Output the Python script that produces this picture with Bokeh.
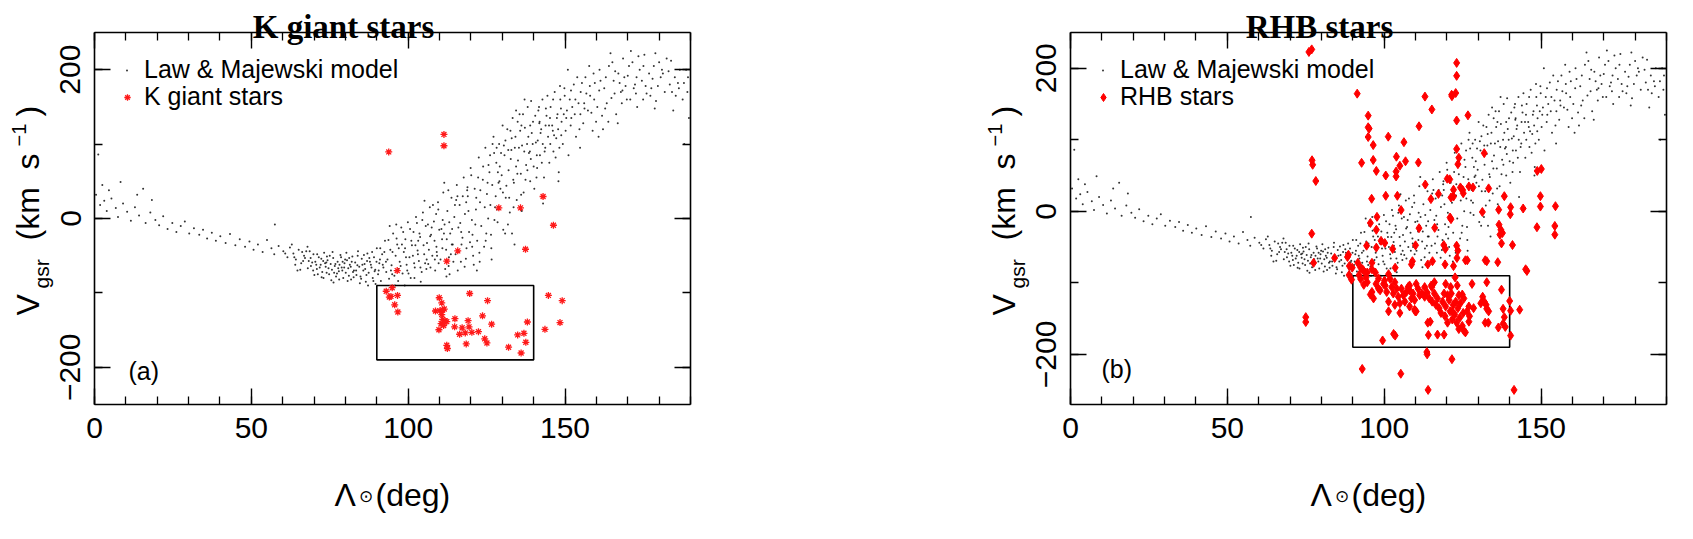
import math
from bokeh.plotting import figure
from bokeh.models import (Range1d, FixedTicker, LinearAxis, Label, Legend,
                          LegendItem, CustomJSTickFormatter)
from bokeh.layouts import row
from bokeh.embed import file_html
from bokeh.resources import INLINE

# ---------------- data ----------------
lam_range = [0, 190]
vgsr_range_a = [-250, 250]
vgsr_range_b = [-270, 250]
box_lam = [90, 140]
box_vgsr = [-190, -90]
x_major_ticks = [0, 50, 100, 150]
x_minor_ticks = [0, 10, 20, 30, 40, 50, 60, 70, 80, 90, 100, 110, 120, 130, 140, 150, 160, 170, 180, 190]
y_major_ticks = [-200, 0, 200]
y_minor_ticks = [-200, -100, 0, 100, 200]

model_lam = [
    0.5, 1.2, 1.8, 2.5, 3.1, 3.9, 4.6, 5.4, 6.8, 8.3,
    7.5, 9.1, 10.4, 11.6, 12.9, 14.2, 15.5, 16.3, 17.8, 19.4,
    20.6, 21.9, 23.3, 24.8, 26.1, 27.5, 28.8, 30.2, 31.7, 33.4,
    34.6, 35.9, 37.4, 38.7, 40.1, 41.8, 43.2, 44.9, 46.3, 48.0,
    49.4, 50.7, 52.1, 53.6, 55.0, 56.4, 57.3, 58.7, 60.2, 61.5,
    62.3, 63.4, 64.2, 65.1, 65.9, 66.8, 67.5, 68.3, 69.0, 69.8,
    70.4, 70.9, 71.5, 72.1, 72.6, 73.2, 73.7, 74.3, 74.8, 75.3,
    75.7, 76.1, 76.6, 77.0, 77.5, 77.9, 78.4, 78.8, 79.3, 79.7,
    80.1, 80.5, 80.9, 81.4, 81.8, 82.2, 82.7, 83.1, 83.5, 84.0,
    84.4, 84.8, 85.2, 85.7, 86.1, 86.5, 87.0, 87.4, 87.8, 88.3,
    88.7, 89.1, 89.5, 90.0, 90.4, 90.8, 91.3, 91.7, 92.1, 92.6,
    93.0, 93.4, 93.9, 94.3, 94.7, 95.2, 95.6, 96.0, 96.5, 96.9,
    97.3, 97.8, 98.2, 98.6, 99.1, 99.5, 99.9, 100.4, 100.8, 101.2,
    101.7, 102.1, 102.5, 103.0, 103.4, 103.8, 104.3, 104.7, 105.1, 105.6,
    106.0, 106.4, 106.9, 107.3, 107.7, 108.2, 108.6, 109.0, 109.5, 109.9,
    110.3, 110.8, 111.2, 111.6, 112.1, 112.5, 112.9, 113.4, 113.8, 114.2,
    114.7, 115.1, 115.5, 116.0, 116.4, 116.8, 117.3, 117.7, 118.1, 118.6,
    119.0, 119.4, 119.9, 120.3, 120.7, 121.2, 121.6, 122.0, 122.5, 122.9,
    123.3, 123.8, 124.2, 124.6, 125.1, 125.5, 125.9, 126.4, 126.8, 127.2,
    127.7, 128.1, 128.5, 129.0, 129.4, 129.8, 130.3, 130.7, 131.1, 131.6,
    132.0, 132.4, 132.9, 133.3, 133.7, 134.2, 134.6, 135.0, 135.5, 135.9,
    136.3, 136.8, 137.2, 137.6, 138.1, 138.5, 138.9, 139.4, 139.8, 140.2,
    140.7, 141.1, 141.5, 142.0, 142.4, 142.8, 143.3, 143.7, 144.1, 144.6,
    145.0, 145.4, 145.9, 146.3, 146.7, 147.2, 147.6, 148.0, 148.5, 148.9,
    149.3, 149.8, 150.2, 150.6, 151.1, 151.5, 152.0, 152.8, 153.5, 154.3,
    155.0, 155.8, 156.5, 157.3, 158.0, 158.8, 159.5, 160.3, 161.0, 161.8,
    162.5, 163.3, 164.0, 164.8, 165.5, 166.3, 167.0, 167.8, 168.5, 169.3,
    170.0, 170.8, 171.5, 172.3, 173.0, 173.8, 174.5, 175.3, 176.0, 176.8,
    177.5, 178.3, 179.0, 180.5, 181.8, 183.0, 184.5, 186.0, 187.5, 189.2,
    68.9, 71.2, 73.9, 76.4, 78.1, 81.1, 83.8, 86.9, 89.3, 91.0,
    92.4, 94.5, 96.2, 98.0, 99.7, 101.5, 103.2, 105.4, 107.5, 109.2,
    111.0, 113.0, 115.3, 117.0, 118.8, 120.5, 122.3, 124.4, 126.1, 128.8,
    130.5, 132.6, 134.4, 136.1, 137.9, 139.1, 141.8, 143.9, 146.1, 148.2,
    150.9, 153.1, 156.1, 159.1, 162.1, 165.1, 168.1, 172.6, 180.0, 185.3,
    57.5, 64.7, 95.8, 104.0, 113.2, 121.9, 126.6, 133.9, 18.3, 13.6,
    188.0, 189.5, 183.8, 178.8, 171.0, 166.8, 160.7, 154.8, 147.9, 143.0,
    66.2, 71.8, 74.1, 77.3, 79.9, 82.6, 85.9, 88.1, 69.4, 73.0,
    76.8, 80.3, 83.4, 86.7, 89.9, 68.0, 72.9, 75.5, 78.6, 81.7,
    84.6, 87.6, 90.6, 67.1, 70.1, 74.6, 79.0, 82.0, 85.4, 88.9,
    91.9, 95.0, 98.4, 101.9, 104.9, 107.1, 110.6, 113.6, 116.6, 119.7,
    93.7, 96.8, 99.3, 102.8, 105.9, 108.9, 111.8, 114.9, 118.4, 121.4,
    94.1, 97.0, 100.1, 103.6, 106.6, 109.7, 112.3, 115.8, 118.9, 122.7,
    124.9, 126.2, 123.0, 120.1, 117.4, 114.0, 111.5, 108.4, 105.2, 102.3,
    125.6, 127.9, 129.6, 131.3, 133.0, 134.8, 136.6, 138.3, 140.0, 141.9,
    143.5, 145.2, 147.0, 148.7, 126.9, 128.6, 130.1, 132.2, 134.0, 135.7,
    137.4, 139.2, 141.3, 142.6, 144.4, 146.5, 148.4, 127.5, 130.9, 133.6,
    136.0, 138.8, 140.5, 142.2, 144.9, 147.8, 149.6, 129.1, 131.9, 134.9,
    151.8, 153.9, 156.8, 158.4, 160.9, 163.0, 165.8, 168.9, 171.9, 174.9,
    177.9, 180.9, 183.4, 186.6, 189.0, 152.3, 154.6, 157.7, 159.9, 162.8,
    164.5, 167.4, 169.7, 173.4, 175.7, 178.6, 182.4, 185.0, 187.9, 155.4,
    60.8, 62.9, 64.0, 66.5, 67.9, 69.7, 71.0, 72.4, 73.5, 75.0,
    76.2, 77.7, 79.1, 80.7, 82.4, 83.9, 85.0, 86.3, 87.2, 88.5,
    63.7, 65.6, 68.6, 70.7, 72.3, 74.0, 75.9, 78.0, 79.6, 81.2,
    89.6, 91.1, 92.9, 94.9, 96.3, 97.6, 99.0, 100.6, 102.0, 103.1,
    104.5, 105.8, 107.0, 108.5, 109.6, 110.9, 112.2, 113.1, 114.4, 115.7,
    116.9, 118.0, 119.2, 120.4, 121.7, 122.8, 123.9, 124.7, 112.8, 107.9,
    98.9, 101.0, 103.9, 106.3, 109.1, 111.4, 113.9, 116.2, 118.5, 120.9,
    125.3, 126.5, 127.4, 128.3, 129.2, 130.2, 131.0, 131.8, 132.7, 133.5,
    134.4, 135.3, 136.2, 137.1, 138.0, 138.9, 139.7, 140.9, 141.7, 142.9,
    143.8, 145.3, 146.2, 147.4, 148.8, 149.9, 128.2, 133.1, 137.0, 141.0,
    150.4, 151.9, 153.3, 154.9, 156.2, 157.9, 159.3, 161.3, 163.8, 166.0,
    168.3, 170.4, 172.8, 175.0, 177.2, 179.6, 181.2, 184.1, 186.3, 188.6,
]
model_vgsr = [
    32, 86, 18, 45, 24, 10, 38, 27, 14, 49,
    2, 20, 9, -3, 15, 4, 40, -6, 8, -2,
    -9, 3, -14, -6, -18, -10, -4, -20, -13, -22,
    -15, -27, -19, -30, -24, -33, -21, -36, -28, -38,
    -31, -42, -35, -45, -29, -40, -48, -37, -44, -52,
    -39, -47, -55, -42, -60, -50, -44, -57, -64, -48,
    -58, -68, -52, -62, -72, -46, -65, -56, -75, -61,
    -69, -53, -64, -78, -58, -71, -49, -66, -80, -60,
    -73, -56, -67, -62, -82, -51, -70, -59, -76, -44,
    -65, -78, -54, -70, -61, -85, -47, -73, -58, -66,
    -80, -52, -69, -40, -75, -60, -84, -48, -66, -30,
    -72, -55, -81, -42, -63, -20, -77, -50, -35, -68,
    -58, -12, -74, -45, -28, -62, -5, -52, -80, -36,
    -18, -66, 2, -43, -57, -25, -72, 8, -48, -10,
    -33, -61, 15, -22, -50, -4, -70, -38, 22, -15,
    -55, -28, 35, -8, -42, 10, -64, -20, 28, -35,
    2, -48, 45, -12, 18, -58, -26, 55, 6, -40,
    30, -18, 68, -2, -50, 40, 12, -30, 82, 22,
    -10, 52, -38, 95, 33, 0, 62, -22, 45, 110,
    15, 75, -5, 100, 40, 58, -15, 85, 28, 120,
    65, 8, 92, 135, 48, 110, 25, 78, 140, 60,
    98, 35, 122, 72, 150, 88, 50, 115, 130, 40,
    102, 68, 145, 85, 120, 160, 55, 95, 138, 110,
    75, 150, 125, 90, 170, 108, 140, 62, 160, 130,
    100, 175, 118, 145, 85, 160, 135, 180, 110, 155,
    170, 128, 190, 145, 165, 118, 182, 150, 200, 138,
    175, 155, 205, 162, 185, 140, 195, 170, 215, 178,
    192, 160, 210, 180, 150, 200, 185, 220, 168, 195,
    175, 205, 158, 190, 170, 198, 145, 182, 160, 190,
    -53, -75, -59, -73, -62, -77, -63, -57, -71, -55,
    -45, -70, -8, -35, -70, -50, -30, -60, -12, -50,
    -2, -52, 25, -35, 38, -22, 55, 15, 85, 48,
    98, 118, 70, 125, 100, 80, 128, 148, 118, 95,
    200, 140, 155, 195, 120, 210, 155, 168, 210, 165,
    -8, -70, -90, -85, -75, -70, -55, -35, 25, 32,
    100, 135, 212, 222, 225, 128, 110, 95, 50, 20,
    -45, -66, -51, -74, -55, -79, -49, -62, -59, -80,
    -61, -46, -70, -76, -58, -67, -57, -83, -52, -65,
    -87, -53, -70, -53, -76, -67, -70, -58, -62, -84,
    -62, -45, -18, -60, -36, -66, -14, -48, -6, -32,
    -29, -84, -52, -6, -55, 6, -68, 18, -54, -8,
    -10, -40, -74, -20, -42, -60, -28, -70, 42, -46,
    -20, 18, 38, 58, 30, -14, 48, -30, 24, -36,
    72, 30, 88, 44, 108, 60, 140, 110, 70, 130,
    90, 135, 82, 148, 100, 62, 125, 28, 95, 118,
    52, 158, 105, 75, 165, 112, 178, -2, -20, 15,
    32, 90, 138, 115, 125, 120, 140, 50, 92, 130,
    125, 190, 168, 142, 172, 190, 168, 190, 175, 160,
    188, 200, 180, 200, 170, 150, 120, 205, 130, 148,
    222, 182, 160, 218, 178, 148, 215, 190, 182, 182,
    -47, -35, -62, -57, -38, -70, -48, -79, -60, -50,
    -86, -67, -58, -84, -72, -50, -81, -68, -90, -45,
    -52, -69, -44, -62, -54, -73, -45, -82, -66, -53,
    -88, -40, -58, -75, -27, -64, -40, -14, -80, -48,
    -2, -68, -24, -55, 12, -40, -78, -5, -58, 30,
    -18, -65, 10, -38, 28, -58, 70, -30, 38, 18,
    -90, -30, -66, -8, -45, -20, -35, -45, 22, -62,
    48, -40, 88, 12, 70, 35, 105, -8, 80, 52,
    145, 95, 10, 160, 65, 125, 100, 55, 150, 100,
    125, 100, 160, 135, 112, 165, 95, -20, 90, 85,
    135, 172, 160, 140, 148, 178, 160, 185, 130, 198,
    172, 205, 190, 205, 165, 178, 195, 170, 175, 200,
]

kgiant_lam = [
    93.0, 94.9, 94.0, 94.5, 96.6, 95.7, 96.7, 109.9, 110.7, 108.7,
    110.1, 111.0, 111.5, 110.7, 111.0, 111.8, 112.3, 110.5, 111.3, 109.8,
    114.9, 114.8, 117.2, 119.1, 119.4, 116.4, 118.2, 120.3, 122.4, 119.6,
    125.3, 123.7, 126.6, 124.4, 125.1, 112.3, 112.5, 118.5, 132.0, 136.0,
    134.9, 136.9, 137.5, 138.0, 144.7, 149.1, 148.4, 143.6, 115.8, 112.3,
    96.5, 137.4, 93.8, 111.4, 111.4, 128.9, 135.8, 143.0, 146.3,
]
kgiant_vgsr = [
    -97.8, -93.0, -105.6, -104.7, -103.4, -116.0, -125.6, -106.5, -113.4, -124.3,
    -123.9, -123.0, -121.7, -129.1, -135.6, -137.8, -138.6, -141.2, -143.8, -149.5,
    -134.7, -145.6, -146.9, -137.3, -145.6, -155.6, -153.8, -153.0, -152.1, -100.8,
    -110.4, -130.8, -142.1, -161.7, -167.3, -170.4, -174.7, -168.6, -173.0, -180.8,
    -156.5, -154.3, -166.4, -139.1, -103.4, -110.4, -139.9, -149.0, -43.5, -57.4,
    -70.0, -41.3, 89.5, 113.0, 97.8, 14.3, 14.3, 29.6, -9.1,
]

rhb_lam = [
    76.0, 76.9, 123.1, 123.1, 121.5, 122.8, 121.6, 91.4, 113.0, 115.2,
    123.1, 126.7, 94.9, 94.9, 95.2, 94.9, 96.5, 101.3, 106.3, 111.1,
    123.1, 131.9, 77.0, 77.2, 78.2, 92.8, 96.5, 97.5, 100.5, 103.9,
    105.0, 103.8, 103.8, 106.8, 110.9, 123.8, 123.5, 113.1, 120.1, 120.9,
    122.1, 124.3, 125.0, 125.2, 127.0, 128.3, 133.3, 121.3, 122.1, 117.3,
    114.9, 100.5, 104.2, 96.0, 138.3, 148.8, 150.1, 149.8, 149.8, 154.6,
    144.3, 140.3, 140.2, 136.5, 131.3, 105.4, 97.7, 95.6, 97.5, 111.1,
    116.1, 121.0, 121.3, 136.6, 137.2, 136.9, 137.7, 137.4, 140.9, 148.7,
    154.4, 154.4, 76.9, 94.4, 97.5, 99.0, 100.2, 102.7, 110.0, 119.0,
    119.5, 123.1, 123.5, 88.6, 77.5, 84.2, 88.9, 89.8, 91.6, 93.1,
    96.1, 94.6, 103.5, 108.7, 109.0, 115.4, 119.4, 122.1, 123.2, 126.5,
    132.2, 136.2, 145.5, 145.1, 75.0, 75.0, 99.5, 103.0, 103.5, 113.6,
    113.7, 121.6, 93.0, 105.3, 114.0, 141.4, 140.3, 143.2, 88.3, 92.5,
    93.5, 96.1, 97.2, 113.9, 125.9, 132.7, 88.8, 89.6, 92.0, 94.2,
    98.2, 101.4, 99.8, 122.6, 92.5, 93.5, 94.6, 96.1, 96.6, 95.6,
    97.4, 98.7, 100.1, 100.3, 100.8, 101.4, 102.4, 102.9, 103.4, 104.0,
    104.5, 105.0, 105.5, 106.1, 106.6, 107.1, 107.6, 108.1, 108.7, 109.2,
    109.7, 110.2, 110.8, 111.3, 112.0, 112.9, 113.7, 114.4, 115.0, 115.3,
    116.0, 116.5, 117.0, 117.5, 118.1, 118.6, 119.1, 119.4, 119.6, 120.2,
    120.7, 121.0, 121.4, 121.7, 122.0, 122.5, 122.8, 123.1, 123.5, 123.8,
    124.1, 124.3, 124.9, 125.2, 125.4, 125.9, 124.9, 127.0, 127.2, 123.3,
    128.0, 132.7, 137.4, 131.4, 131.9, 132.5, 132.7, 133.3, 130.8, 132.2,
    133.2, 136.4, 137.9, 138.3, 137.9, 140.0, 140.3, 138.6, 113.9, 114.7,
    114.1, 117.0, 119.1, 115.2, 108.1, 121.2, 103.4, 101.4, 105.0, 108.1,
    109.7, 109.9, 98.2, 101.9, 110.2, 112.9, 116.0, 119.6, 125.4, 126.4,
    128.5, 127.0, 123.8, 121.7, 120.2,
]
rhb_vgsr = [
    222.8, 226.4, 207.5, 189.4, 163.0, 165.4, 160.9, 164.5, 160.4, 142.4,
    127.0, 134.2, 133.8, 117.5, 115.7, 103.9, 92.6, 104.4, 96.7, 118.9,
    87.2, 81.3, 71.4, 65.1, 42.4, 67.8, 71.8, 56.5, 50.1, 76.4,
    63.7, 55.6, 48.8, 70.0, 68.2, 75.0, 65.9, 37.5, 45.6, 44.7,
    30.2, 33.4, 29.8, 25.3, 34.8, 33.4, 32.1, 19.4, 20.7, 24.4,
    17.1, 21.7, 21.7, 17.6, 21.2, 56.5, 59.2, 21.2, 6.7, 7.2,
    4.0, 5.8, -4.1, 2.2, -0.9, 1.8, -7.7, -16.3, -25.8, -23.5,
    -23.1, -8.6, -10.9, -18.6, -25.8, -32.6, -30.3, -44.8, -47.1, -22.2,
    -20.4, -32.6, -31.2, -48.0, -50.7, -41.2, -44.3, -52.5, -47.5, -47.1,
    -52.5, -48.0, -54.8, -60.6, -72.0, -65.2, -76.5, -78.8, -72.0, -81.0,
    -81.0, -85.5, -78.8, -74.2, -69.7, -69.7, -74.2, -76.5, -65.2, -68.4,
    -68.4, -71.1, -83.3, -81.0, -147.9, -154.7, -180.5, -171.4, -173.7, -196.7,
    -199.9, -206.7, -220.3, -227.0, -249.6, -249.6, -173.7, -137.5, -63.8, -78.7,
    -83.3, -72.0, -85.5, -74.2, -68.4, -69.7, -89.1, -95.5, -89.1, -92.3,
    -93.7, -87.8, -101.4, -92.3, -94.6, -102.7, -99.1, -112.7, -121.7, -116.3,
    -101.4, -110.4, -96.8, -103.6, -112.7, -126.2, -105.9, -114.9, -99.1, -108.1,
    -119.4, -128.5, -108.1, -117.2, -126.2, -112.7, -105.9, -110.4, -121.7, -114.9,
    -124.0, -139.8, -108.1, -117.2, -114.9, -119.4, -113.6, -121.7, -103.6, -126.2,
    -114.9, -130.7, -121.7, -135.3, -142.0, -126.2, -114.9, -146.6, -133.0, -155.6,
    -124.0, -139.8, -114.9, -151.1, -130.7, -144.3, -126.2, -155.6, -135.3, -117.2,
    -148.8, -128.5, -160.1, -142.0, -166.9, -169.2, -116.3, -133.0, -146.6, -103.6,
    -101.4, -99.1, -109.5, -119.4, -126.2, -130.7, -136.2, -139.8, -128.5, -155.6,
    -155.6, -162.4, -157.0, -147.9, -136.2, -125.3, -138.9, -161.5, -155.6, -154.2,
    -172.8, -172.3, -172.3, -105.9, -103.6, -105.9, -130.7, -139.8, -142.0, -133.0,
    -137.5, -139.8, -108.1, -94.6, -101.4, -105.9, -99.1, -101.4, -121.7, -139.8,
    -135.3, -154.2, -164.6, -139.8, -117.2,
]

# ---------------- styling / layout (pixels) ----------------
SANS = "Liberation Sans"
SERIF = "Liberation Serif"
PAGE_TOP = 8          # body margin
CANVAS_H = 515
BOX_TOP_PAGE = 40     # page y of the top edge of the plot box
BOX_W, BOX_H = 596, 372


def style_axis(ax, ticks, minor, labels=True, vertical=False, standoff=14):
    ax.ticker = FixedTicker(ticks=ticks, minor_ticks=minor)
    ax.major_tick_in = 16
    ax.major_tick_out = 0
    ax.minor_tick_in = 8
    ax.minor_tick_out = 0
    ax.axis_line_color = "black"
    ax.axis_line_width = 1.6
    ax.major_tick_line_color = "black"
    ax.major_tick_line_width = 1.4
    ax.minor_tick_line_color = "black"
    ax.minor_tick_line_width = 1.3
    if labels:
        ax.major_label_text_font = SANS
        ax.major_label_text_font_size = "30px"
        ax.major_label_text_color = "black"
        ax.major_label_standoff = standoff
        ax.major_label_overrides = {-200: "\u2212200"}
        if vertical:
            ax.major_label_orientation = "vertical"
    else:
        ax.formatter = CustomJSTickFormatter(code="return ''")
        ax.major_label_text_font_size = "1px"
        ax.major_label_standoff = 0


def make_panel(title, vrange, star_lam, star_v, marker, star_label, tag,
               canvas_left, width, box_left_page, tag_dx, tag_dy, legend2_glyph):
    vmin, vmax = vrange
    ppx = BOX_W / (lam_range[1] - lam_range[0])
    ppy = BOX_H / (vmax - vmin)
    off_x = box_left_page - canvas_left
    off_y = BOX_TOP_PAGE - PAGE_TOP
    x_start = lam_range[0] - off_x / ppx
    x_end = x_start + width / ppx
    y_end = vmax + off_y / ppy
    y_start = y_end - CANVAS_H / ppy

    def to_data(dx, dy):
        return lam_range[0] + dx / ppx, vmax - dy / ppy

    p = figure(width=width, height=CANVAS_H, title=None,
               x_range=Range1d(x_start, x_end), y_range=Range1d(y_start, y_end),
               min_border=0, output_backend="svg", toolbar_location=None)
    p.xgrid.visible = False
    p.ygrid.visible = False
    p.outline_line_color = None
    p.background_fill_color = "white"
    p.border_fill_color = "white"

    # the box: four axes pinned to the data limits
    xax = p.xaxis[0]
    style_axis(xax, x_major_ticks, x_minor_ticks, standoff=13)
    xax.fixed_location = vmin
    xax.bounds = (lam_range[0], lam_range[1])
    yax = p.yaxis[0]
    style_axis(yax, y_major_ticks, y_minor_ticks, vertical=True, standoff=14)
    yax.fixed_location = lam_range[0]
    yax.bounds = (vmin, vmax)
    top_ax = LinearAxis(fixed_location=vmax, bounds=(lam_range[0], lam_range[1]))
    style_axis(top_ax, x_major_ticks, x_minor_ticks, labels=False)
    p.add_layout(top_ax, "above")
    right_ax = LinearAxis(fixed_location=lam_range[1], bounds=(vmin, vmax))
    style_axis(right_ax, y_major_ticks, y_minor_ticks, labels=False)
    p.add_layout(right_ax, "right")

    r_model = p.scatter(model_lam, model_vgsr, marker="circle", size=2.0,
                        fill_color="black", line_color=None, fill_alpha=0.8)
    p.quad(left=box_lam[0], right=box_lam[1], bottom=box_vgsr[0], top=box_vgsr[1],
           fill_color=None, line_color="black", line_width=1.6)
    if marker == "asterisk":
        r_star = p.scatter(star_lam, star_v, marker="asterisk", size=7,
                           line_color="#ff1a1a", line_width=1.3)
    else:
        r_star = p.scatter(star_lam, star_v, marker="diamond", size=9,
                           fill_color="#ff0000", line_color="#ff0000", line_width=1.0)

    # legend (two single-row legends so each glyph keeps its own size)
    common = dict(padding=0, margin=0, spacing=0, border_line_color=None,
                  background_fill_alpha=0, label_text_font=SANS,
                  label_text_font_size="25px", label_text_color="black",
                  label_height=28, glyph_height=28)
    leg1 = Legend(items=[LegendItem(label="Law & Majewski model", renderers=[r_model])],
                  location=(off_x + 30, CANVAS_H - (off_y + 24 + 28)),
                  glyph_width=5, label_standoff=15, **common)
    gw = legend2_glyph
    leg2 = Legend(items=[LegendItem(label=star_label, renderers=[r_star])],
                  location=(off_x + 33 - gw // 2, CANVAS_H - (off_y + 51 + 28)),
                  glyph_width=gw, label_standoff=int(50 - (33 + gw // 2)), **common)
    p.add_layout(leg1)
    p.add_layout(leg2)

    def add_text(text, dx, dy, size, align="left", baseline="alphabetic",
                 angle=0.0, font=SANS, style="normal"):
        x, y = to_data(dx, dy)
        p.add_layout(Label(x=x, y=y, text=text, text_font=font,
                           text_font_size=f"{size}px", text_align=align,
                           text_baseline=baseline, angle=angle,
                           text_color="black", text_font_style=style))

    # title
    add_text(title, 249, -6, 33, align="center", font=SERIF, style="bold")
    # panel tag
    add_text(tag, tag_dx, tag_dy, 25, baseline="middle")
    # x-axis label  Λ⊙(deg)
    add_text("\u039b", 240, 462, 32)
    add_text("\u2299", 271, 464, 17, align="center", baseline="middle")
    add_text("(deg)", 281, 462, 32)
    # y-axis label  V_gsr (km s^-1)
    up = math.pi / 2
    add_text("V", -67, 283, 32, angle=up)
    add_text("gsr", -53, 256, 21, angle=up)
    add_text("(km", -67, 208, 32, angle=up)
    add_text("s", -67, 137, 32, angle=up)
    add_text("\u22121", -76, 114, 20, angle=up)
    add_text(")", -67, 84, 32, angle=up)
    return p


p1 = make_panel("K giant stars", vgsr_range_a, kgiant_lam, kgiant_vgsr, "asterisk",
                "K giant stars", "(a)", 8, 840, 102, 34, 338, 16)
p2 = make_panel("RHB stars", vgsr_range_b, rhb_lam, rhb_vgsr, "diamond",
                "RHB stars", "(b)", 848, 828, 1078, 31, 336, 20)

layout = row(p1, p2)
open("out.html", "w").write(file_html(layout, INLINE))
